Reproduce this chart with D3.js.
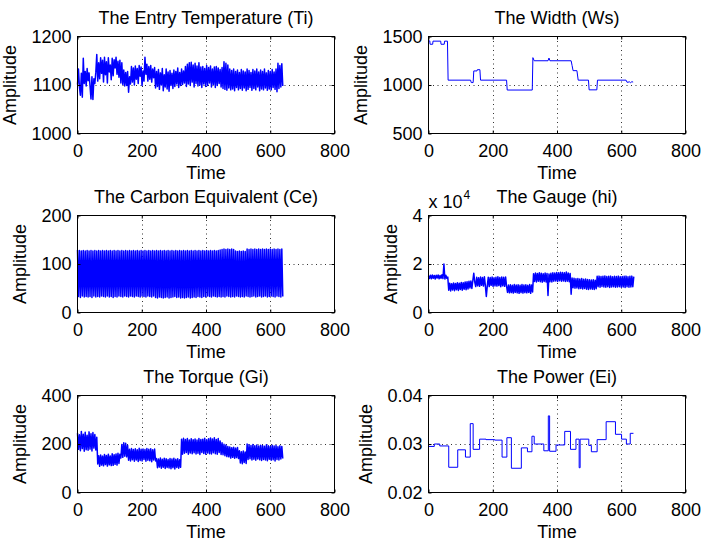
<!DOCTYPE html>
<html>
<head>
<meta charset="utf-8">
<script src="https://cdn.jsdelivr.net/npm/d3@7"></script>
<style>
  body { margin: 0; background: #fff; }
  svg text { font-family: "Liberation Sans", Arial, Helvetica, sans-serif; fill: #000; }
</style>
</head>
<body>
<svg id="fig" width="704" height="543"></svg>
<script>
// ---- data: one reading every sampleStep time units, starting at t = 0 ----
const sampleStep = 3;
const timeTicks = [0, 200, 400, 600, 800];

const entryTemp = [
  1101, 1133, 1096, 1079, 1124, 1075, 1155, 1103, 1128, 1098,
  1134, 1109, 1125, 1098, 1071, 1117, 1070, 1113, 1103, 1126,
  1163, 1108, 1146, 1113, 1156, 1124, 1151, 1106, 1157, 1121,
  1148, 1104, 1156, 1127, 1141, 1111, 1155, 1119, 1152, 1135,
  1157, 1122, 1149, 1116, 1151, 1104, 1146, 1101, 1131, 1098,
  1126, 1099, 1128, 1085, 1117, 1102, 1138, 1106, 1135, 1100,
  1139, 1112, 1134, 1103, 1140, 1118, 1137, 1099, 1129, 1108,
  1157, 1122, 1143, 1108, 1138, 1112, 1140, 1106, 1133, 1115,
  1136, 1094, 1128, 1097, 1132, 1091, 1125, 1100, 1134, 1088,
  1121, 1096, 1133, 1092, 1127, 1087, 1130, 1099, 1124, 1093,
  1131, 1097, 1128, 1102, 1135, 1095, 1126, 1099, 1133, 1101,
  1129, 1104, 1138, 1097, 1143, 1102, 1146, 1099, 1147, 1106,
  1141, 1096, 1145, 1103, 1139, 1098, 1146, 1100, 1137, 1095,
  1138, 1102, 1134, 1097, 1140, 1099, 1136, 1104, 1139, 1096,
  1133, 1101, 1137, 1095, 1138, 1099, 1135, 1103, 1132, 1096,
  1136, 1093, 1148, 1091, 1145, 1089, 1141, 1094, 1133, 1090,
  1130, 1092, 1133, 1088, 1128, 1095, 1131, 1090, 1126, 1093,
  1132, 1089, 1129, 1094, 1127, 1088, 1133, 1091, 1130, 1095,
  1126, 1089, 1132, 1093, 1129, 1090, 1133, 1096, 1127, 1088,
  1131, 1092, 1128, 1090, 1133, 1094, 1125, 1089, 1130, 1092,
  1128, 1090, 1132, 1095, 1127, 1091, 1133, 1086, 1145, 1093,
  1140, 1096, 1144, 1098
];

const carbonEq = [
  129, 33, 128, 31, 127, 34, 128, 32, 127, 33,
  128, 32, 127, 33, 128, 31, 127, 34, 128, 32,
  127, 33, 128, 32, 127, 34, 128, 33, 127, 32,
  128, 34, 127, 32, 128, 33, 127, 31, 128, 33,
  127, 32, 128, 34, 127, 33, 128, 32, 127, 34,
  128, 33, 127, 32, 128, 34, 127, 33, 128, 32,
  127, 34, 128, 33, 127, 32, 128, 34, 127, 33,
  128, 32, 127, 34, 128, 33, 127, 32, 128, 34,
  127, 31, 128, 30, 127, 32, 128, 31, 127, 30,
  128, 31, 127, 32, 128, 30, 127, 31, 128, 32,
  127, 33, 128, 31, 127, 32, 128, 30, 127, 31,
  128, 30, 127, 31, 128, 32, 127, 30, 128, 31,
  127, 32, 128, 31, 127, 33, 128, 32, 127, 31,
  128, 33, 127, 32, 128, 34, 127, 33, 128, 32,
  127, 34, 128, 33, 127, 32, 128, 33, 129, 32,
  130, 33, 131, 32, 130, 34, 131, 33, 130, 32,
  131, 33, 130, 32, 127, 34, 126, 33, 127, 32,
  126, 33, 127, 32, 126, 34, 131, 33, 130, 32,
  131, 33, 130, 34, 131, 32, 130, 33, 131, 34,
  130, 32, 131, 33, 130, 34, 131, 32, 130, 33,
  131, 34, 130, 33, 131, 32, 130, 34, 131, 33,
  130, 32, 131, 33
];

const gauge = [
  15200, 14000, 15400, 13900, 15500, 14100, 15300, 13800, 15400, 14200,
  15500, 13900, 15300, 14100, 15600, 14000, 20000, 13800, 15400, 14100,
  14600,  9200, 12100,  8900, 11900,  9300, 12200,  9000, 12000,  9400,
  12300,  9100, 12100,  9500, 12400,  9200, 12300,  9600, 12600,  9400,
  12700,  9700, 12900, 10100, 13000,  9900, 13200, 16200, 12500, 10700,
  14500, 11000, 14300, 10800, 14600, 11200, 14400, 10900, 14700, 11100,
   6600, 11000, 14500, 10700, 14400, 11200, 14600, 10800, 14300, 11000,
  14500, 10900, 14700, 11100, 14400, 10600, 14600, 11000, 14500, 10800,
  14600, 10900,  8300, 11300,  8100, 11400,  8200, 11200,  8000, 11500,
   8300, 11300,  8100, 11400,  7900, 11200,  8200, 11500,  8000, 11300,
   8200, 11400,  8100, 11200,  8300, 11500,  7900, 11300,  8500, 16000,
  12800, 16300, 12600, 16100, 12900, 16400, 12700, 16200, 12500, 16000,
  12800, 16300, 12600, 16100,  7000, 15900, 12700, 16200, 12600, 16400,
  12900, 16300, 13000, 16500, 12800, 16400, 13100, 16600, 12900, 16500,
  13000, 16400, 12800, 16700, 12900, 16300, 12700, 16100,  7500, 14200,
  10200, 14100, 10000, 13900, 10100, 14000,  9800, 13800,  9900, 14000,
   9700, 13700,  9900, 13800,  9600, 13600,  9500, 13500,  9700, 13400,
   9600, 13500,  9500, 13300,  9800, 14900, 10600, 15000, 10400, 14800,
  10700, 14900, 10500, 15100, 10400, 14800, 10600, 14900, 10300, 15000,
  10500, 14700, 10600, 14900, 10400, 14800, 10500, 15000, 10600, 14700,
  10400, 14800, 10500, 14900, 10300, 15000, 10600, 14700, 10400, 14900,
  10500, 15000, 10600, 14800
];

const torque = [
  245, 178, 238, 172, 252, 181, 240, 170, 248, 176,
  236, 174, 250, 179, 242, 171, 247, 183, 239, 175,
  228, 118, 152, 108, 155, 113, 150, 110, 157, 115,
  153, 109, 158, 114, 151, 111, 160, 112, 156, 116,
  159, 113, 162, 120, 158, 142, 198, 145, 205, 150,
  203, 147, 195, 133, 178, 130, 181, 135, 177, 129,
  180, 134, 176, 128, 182, 132, 178, 130, 179, 136,
  177, 129, 181, 133, 178, 131, 180, 127, 176, 134,
  179, 130, 140, 102, 138, 105, 142, 100, 137, 104,
  141,  99, 139, 103, 136, 101, 140,  98, 138, 102,
  141,  97, 137, 103, 139, 100, 135, 104, 220, 158,
  224, 162, 219, 165, 223, 158, 217, 163, 222, 160,
  218, 164, 221, 159, 216, 162, 223, 157, 219, 165,
  220, 161, 224, 158, 218, 163, 222, 160, 225, 159,
  221, 164, 226, 160, 219, 158, 223, 165, 212, 157,
  205, 156, 199, 152, 196, 148, 190, 147, 188, 142,
  185, 145, 187, 141, 183, 144, 186, 140, 172, 122,
  168, 119, 171, 124, 167, 120, 200, 136, 197, 139,
  194, 134, 198, 137, 193, 133, 196, 138, 192, 135,
  195, 132, 194, 136, 191, 134, 197, 131, 193, 137,
  190, 133, 195, 135, 192, 130, 194, 136, 189, 134,
  193, 138, 190, 140
];

// width: piecewise-constant set-points (time, value)
const widthTime  = [0, 4, 5, 13, 14, 38, 39, 49, 50, 59, 61, 131, 133, 139, 141, 151, 152, 160, 162, 243, 245, 323, 325, 329, 372, 375, 378, 444, 447, 450, 462, 466, 498, 500, 524, 526, 615, 618, 626, 629, 633, 637];
const widthValue = [1455, 1455, 1420, 1420, 1452, 1452, 1420, 1420, 1452, 1452, 1050, 1050, 1025, 1025, 1145, 1145, 1158, 1158, 1050, 1050, 948, 948, 1282, 1250, 1250, 1278, 1250, 1250, 1200, 1148, 1148, 1050, 1050, 950, 950, 1050, 1050, 1028, 1032, 1024, 1034, 1030];

// power: step levels, each held from its start time to the next one
const powerTime  = [0, 18, 35, 63, 91, 115, 130, 139, 159, 179, 206, 229, 244, 258, 289, 308, 322, 329, 359, 373, 377, 397, 424, 442, 459, 469, 472, 499, 507, 525, 553, 582, 601, 616, 628, 638];
const powerValue = [0.0295, 0.0300, 0.0296, 0.0252, 0.0288, 0.0273, 0.0342, 0.0289, 0.0310, 0.0309, 0.0308, 0.0273, 0.0313, 0.0250, 0.0292, 0.0284, 0.0316, 0.0300, 0.0286, 0.0358, 0.0285, 0.0298, 0.0326, 0.0289, 0.0310, 0.0251, 0.0310, 0.0297, 0.0284, 0.0309, 0.0346, 0.0320, 0.0310, 0.0300, 0.0322, 0.0322];

const sampled = vals => vals.map((v, i) => [i * sampleStep, v]);
const paired = (ts, vs) => ts.map((t, i) => [t, vs[i]]);

const panels = [
  { title: "The Entry Temperature (Ti)", points: sampled(entryTemp), yTicks: [1000, 1100, 1200], col: 0, row: 0, dense: true },
  { title: "The Width (Ws)", points: paired(widthTime, widthValue), yTicks: [500, 1000, 1500], col: 1, row: 0 },
  { title: "The Carbon Equivalent (Ce)", points: sampled(carbonEq), yTicks: [0, 100, 200], col: 0, row: 1, dense: true },
  { title: "The Gauge (hi)", points: sampled(gauge), yTicks: [0, 20000, 40000], col: 1, row: 1, dense: true,
    tickFormat: v => String(v / 1e4), exponent: 4 },
  { title: "The Torque (Gi)", points: sampled(torque), yTicks: [0, 200, 400], col: 0, row: 2, dense: true },
  { title: "The Power (Ei)", points: paired(powerTime, powerValue), yTicks: [0.02, 0.03, 0.04], col: 1, row: 2,
    tickFormat: d3.format(".2f"), curve: d3.curveStepAfter }
];

// ---- layout ----
const colLeft = [77.5, 428.5];
const rowTop = [36.5, 215.5, 395.5];
const plotW = 257, plotH = 97;
const fontSize = 18;
const lineColor = "#0000ff";

const svg = d3.select("#fig");

panels.forEach(p => {
  const L = colLeft[p.col], T = rowTop[p.row];
  const x = d3.scaleLinear().domain([0, 800]).range([L, L + plotW]);
  const y = d3.scaleLinear().domain([p.yTicks[0], p.yTicks[p.yTicks.length - 1]]).range([T + plotH, T]);
  const g = svg.append("g");

  // dotted grid
  g.selectAll("line.vgrid").data(timeTicks.slice(1, -1)).join("line")
    .attr("class", "vgrid")
    .attr("x1", d => Math.round(x(d)) + 0.5).attr("x2", d => Math.round(x(d)) + 0.5)
    .attr("y1", T).attr("y2", T + plotH)
    .attr("stroke", "#333").attr("stroke-width", 1).attr("stroke-dasharray", "1,3.5");
  g.selectAll("line.hgrid").data(p.yTicks.slice(1, -1)).join("line")
    .attr("class", "hgrid")
    .attr("x1", L).attr("x2", L + plotW)
    .attr("y1", d => Math.round(y(d)) + 0.5).attr("y2", d => Math.round(y(d)) + 0.5)
    .attr("stroke", "#333").attr("stroke-width", 1).attr("stroke-dasharray", "1,3.5");

  // series
  const line = d3.line().x(d => x(d[0])).y(d => y(d[1])).curve(p.curve || d3.curveLinear);
  g.append("path").datum(p.points)
    .attr("d", line)
    .attr("fill", "none")
    .attr("stroke", lineColor)
    .attr("stroke-width", p.dense ? 1.5 : 1)
    .attr("stroke-linejoin", "round");

  const styleAxis = a => {
    a.select(".domain").remove();
    a.attr("font-size", fontSize).attr("font-family", null);
  };

  // axes with inward ticks on all four sides
  g.append("g").attr("transform", `translate(0,${T + plotH})`)
    .call(d3.axisBottom(x).tickValues(timeTicks).tickSize(-3).tickPadding(11))
    .call(styleAxis);
  g.append("g").attr("transform", `translate(0,${T})`)
    .call(d3.axisTop(x).tickValues(timeTicks).tickSize(-3).tickFormat(""))
    .call(styleAxis);
  const yAxis = g.append("g").attr("transform", `translate(${L},0)`)
    .call(d3.axisLeft(y).tickValues(p.yTicks).tickSize(-3).tickPadding(6)
      .tickFormat(p.tickFormat || (v => String(v))))
    .call(styleAxis);
  g.append("g").attr("transform", `translate(${L + plotW},0)`)
    .call(d3.axisRight(y).tickValues(p.yTicks).tickSize(-3).tickFormat(""))
    .call(styleAxis);

  // frame
  g.append("rect").attr("x", L).attr("y", T).attr("width", plotW).attr("height", plotH)
    .attr("fill", "none").attr("stroke", "#000").attr("stroke-width", 1);

  // labels
  g.append("text").attr("x", L + plotW / 2).attr("y", T - 13)
    .attr("text-anchor", "middle").attr("font-size", fontSize).text(p.title);
  g.append("text").attr("x", L + plotW / 2).attr("y", T + plotH + 45)
    .attr("text-anchor", "middle").attr("font-size", fontSize).text("Time");

  const maxTick = d3.max(yAxis.selectAll("text").nodes(), n => n.getComputedTextLength());
  const ylx = L - 6 - maxTick - 15;
  g.append("text")
    .attr("transform", `translate(${ylx},${T + plotH / 2}) rotate(-90)`)
    .attr("text-anchor", "middle").attr("font-size", fontSize).text("Amplitude");

  if (p.exponent) {
    const t = g.append("text").attr("x", L).attr("y", T - 8).attr("font-size", fontSize).text("x 10");
    t.append("tspan").attr("dy", -9).attr("dx", 1).attr("font-size", 12).text(String(p.exponent));
  }
});
</script>
</body>
</html>
